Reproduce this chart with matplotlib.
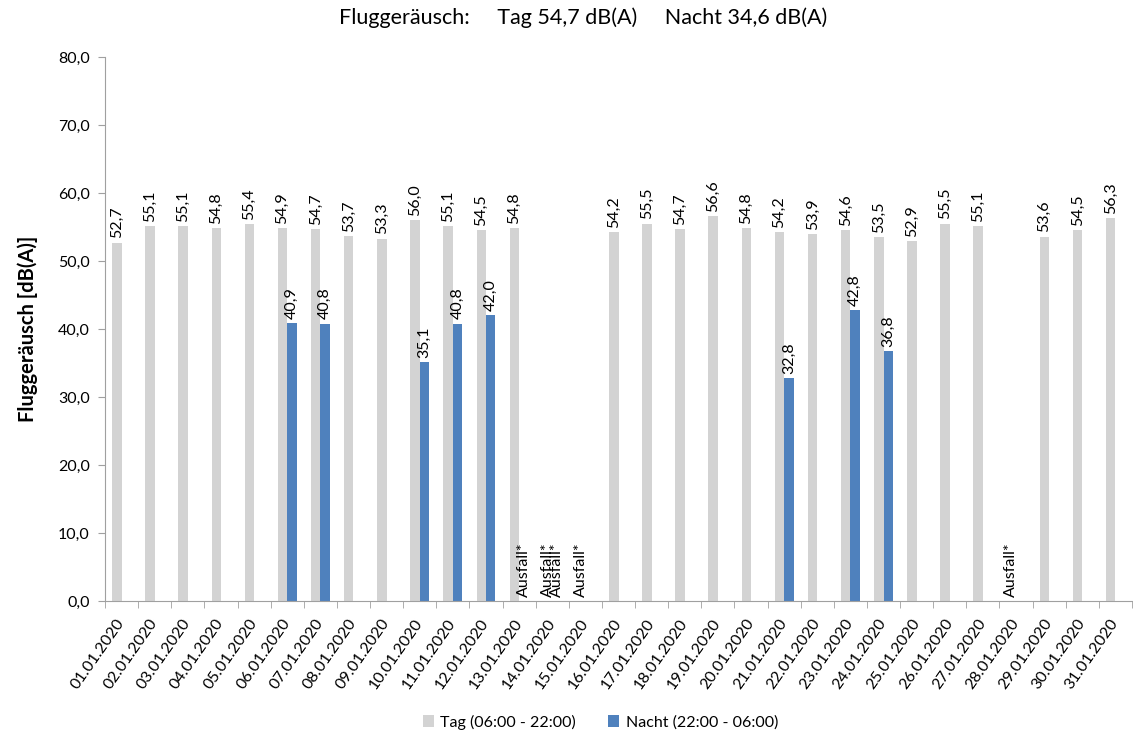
import numpy as np
import matplotlib
matplotlib.use("Agg")
import matplotlib.pyplot as plt

plt.rcParams['font.family'] = ['Lato', 'DejaVu Sans']

dates = ["%02d.01.2020" % d for d in range(1, 32)]
tag = [52.7, 55.1, 55.1, 54.8, 55.4, 54.9, 54.7, 53.7, 53.3, 56.0, 55.1, 54.5, 54.8,
       None, None, 54.2, 55.5, 54.7, 56.6, 54.8, 54.2, 53.9, 54.6, 53.5, 52.9, 55.5,
       55.1, None, 53.6, 54.5, 56.3]
nacht = [None, None, None, None, None, 40.9, 40.8, None, None, 35.1, 40.8, 42.0, None,
         None, None, None, None, None, None, None, 32.8, None, 42.8, 36.8, None, None,
         None, None, None, None, None]
# Ausfall markers: day indices per series
ausfall_tag = [13, 14, 27]
ausfall_nacht = [12, 13]

title = "Fluggeräusch:     Tag 54,7 dB(A)     Nacht 34,6 dB(A)"
ylabel = "Fluggeräusch [dB(A)]"
legend_labels = ["Tag (06:00 - 22:00)", "Nacht (22:00 - 06:00)"]

c_tag = "#D3D3D3"
c_nacht = "#4F81BD"

fig = plt.figure(figsize=(11.33, 7.36), dpi=100)
ax = fig.add_axes([105/1133, 1-601/736, 1027/1133, (601-57)/736])

x = np.arange(len(dates))
w = 0.285
tv = np.array([np.nan if v is None else v for v in tag])
nv = np.array([np.nan if v is None else v for v in nacht])
b1 = ax.bar(x - w/2, np.nan_to_num(tv), w, color=c_tag, label=legend_labels[0])
b2 = ax.bar(x + w/2, np.nan_to_num(nv), w, color=c_nacht, label=legend_labels[1])

fs = 11.5
for i, v in enumerate(tv):
    if not np.isnan(v):
        ax.annotate(("%.1f" % v).replace('.', ','), (x[i] - w/2, v), xytext=(0, 3),
                    textcoords='offset points', rotation=90, ha='center', va='bottom', fontsize=fs)
for i, v in enumerate(nv):
    if not np.isnan(v):
        ax.annotate(("%.1f" % v).replace('.', ','), (x[i] + w/2, v), xytext=(0, 3),
                    textcoords='offset points', rotation=90, ha='center', va='bottom', fontsize=fs)
for i in ausfall_tag:
    ax.annotate("Ausfall*", (x[i] - w/2, 0), xytext=(0, 3), textcoords='offset points',
                rotation=90, ha='center', va='bottom', fontsize=fs)
for i in ausfall_nacht:
    ax.annotate("Ausfall*", (x[i] + w/2, 0), xytext=(0, 3), textcoords='offset points',
                rotation=90, ha='center', va='bottom', fontsize=fs)

ax.set_xlim(-0.5, len(dates) - 0.5)
ax.set_ylim(0, 80)
ax.set_yticks(np.arange(0, 81, 10))
ax.set_yticklabels([("%.1f" % v).replace('.', ',') for v in np.arange(0, 81, 10)], fontsize=11.5)
ax.set_xticks(x)
ax.set_xticklabels(dates, rotation=55, ha='right', va='center', rotation_mode='anchor', fontsize=11.5)
ax.tick_params(axis='x', length=0, pad=14)
ax.set_xticks(np.arange(-0.5, len(dates), 1), minor=True)
ax.tick_params(axis='x', which='minor', length=5, color='#A0A0A0')
ax.tick_params(axis='y', length=5, color='#A0A0A0', pad=6)
for s in ['top', 'right']:
    ax.spines[s].set_visible(False)
for s in ['left', 'bottom']:
    ax.spines[s].set_color('#A0A0A0')

ax.set_ylabel(ylabel, fontsize=14.5, fontweight='bold', labelpad=14)
fig.text(0.515, 1-18/736, title, ha='center', va='center', fontsize=15.5)
fig.legend(handles=[b1, b2], labels=legend_labels, loc='center', bbox_to_anchor=(0.53, 1-722/736),
           ncol=2, frameon=False, fontsize=11.5, handlelength=0.7, handleheight=0.7,
           handletextpad=0.4, columnspacing=2.0)

fig.savefig("out.png", dpi=100)
